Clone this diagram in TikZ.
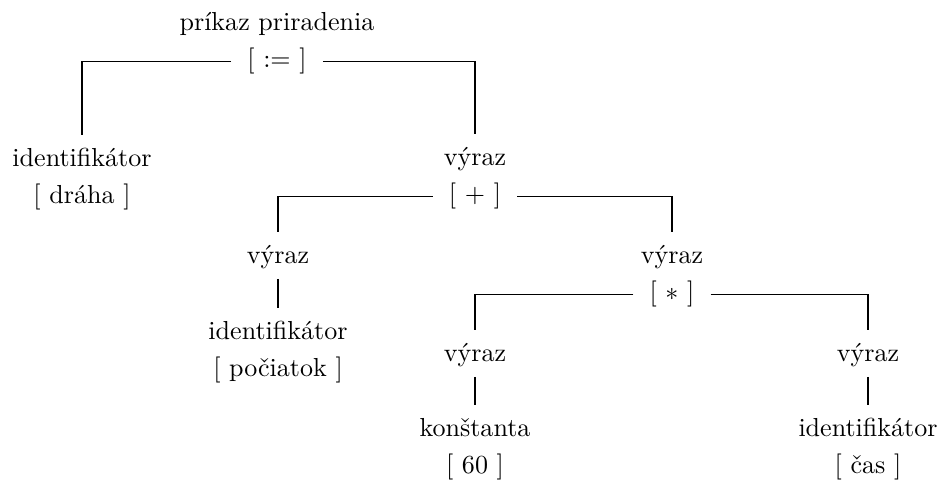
\documentclass[tikz,border=0pt]{standalone}
\usepackage{fontspec}
\usepackage{tikz}
\usetikzlibrary{positioning}
\tikzstyle{lbl} = [inner sep=0pt, text height=7pt, text depth=2.5pt, anchor=base]
\tikzstyle{val} = [inner sep=0pt, text height=7pt, text depth=2.5pt]
\tikzstyle{tedge} = [draw, line width=0.4pt, shorten <=6pt, shorten >=5pt]
\tikzstyle{vedge} = [draw, line width=0.4pt, shorten <=3pt, shorten >=5pt]

\begin{document}
\begin{tikzpicture}[x=0.384pt, y=-0.384pt]
\useasboundingbox (0,0) rectangle (942,484);

% nodes =============================

% root
\node[lbl] (prikaz) at (277,31) {príkaz priradenia};
\node[val, below=4pt of prikaz] (assign) {[ $:=$ ]};

% level 1
\node[lbl] (id1) at (82,167) {identifikátor};
\node[val, below=4pt of id1] (draha) {[ dráha ]};
\node[lbl] (vyraz1) at (475,166) {výraz};
\node[val, below=4pt of vyraz1] (plus) {[ $+$ ]};

% level 2
\node[lbl] (vyraz2) at (278,264) {výraz};
\node[lbl] (id2) at (278,340) {identifikátor};
\node[val, below=4pt of id2] (pociatok) {[ počiatok ]};
\node[lbl] (vyraz3) at (672,264) {výraz};
\node[val, below=4pt of vyraz3] (times) {[ $*$ ]};

% level 3
\node[lbl] (vyraz4) at (475,362) {výraz};
\node[lbl] (konst) at (475,437) {konštanta};
\node[val, below=4pt of konst] (sixty) {[ 60 ]};
\node[lbl] (vyraz5) at (868,362) {výraz};
\node[lbl] (id3) at (868,437) {identifikátor};
\node[val, below=4pt of id3] (cas) {[ čas ]};

%edges
\path[tedge] (assign.west) -| (id1.north);
\path[tedge] (assign.east) -| (vyraz1.north);
\path[tedge] (plus.west) -| (vyraz2.north);
\path[tedge] (plus.east) -| (vyraz3.north);
\path[vedge] (vyraz2.south) -- (id2.north);
\path[tedge] (times.west) -| (vyraz4.north);
\path[tedge] (times.east) -| (vyraz5.north);
\path[vedge] (vyraz4.south) -- (konst.north);
\path[vedge] (vyraz5.south) -- (id3.north);

\end{tikzpicture}
\end{document}
